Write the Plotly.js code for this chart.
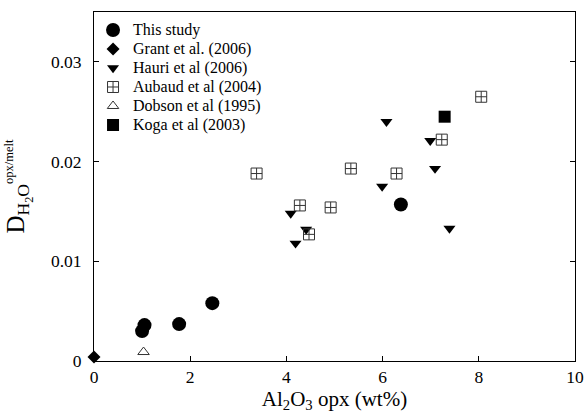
<!DOCTYPE html>
<html>
<head>
<meta charset="utf-8">
<script src="https://cdn.plot.ly/plotly-3.0.1.min.js"></script>
<style>html,body{margin:0;padding:0;background:#fff;}#chart{width:586px;height:416px;}</style>
</head>
<body>
<div id="chart"></div>
<script>
// Data
const thisStudyX = [1.00, 1.05, 1.77, 2.46, 6.38];
const thisStudyY = [0.0030, 0.0036, 0.0037, 0.0058, 0.0157];

const grantX = [0.0];
const grantY = [0.0004];

const hauriX = [6.08, 6.99, 7.09, 5.99, 4.09, 4.19, 4.41, 7.39];
const hauriY = [0.0240, 0.0221, 0.0193, 0.0175, 0.0148, 0.0118, 0.0132, 0.0133];

const aubaudX = [3.38, 8.05, 7.23, 5.34, 6.29, 4.28, 4.92, 4.47];
const aubaudY = [0.0188, 0.0265, 0.0222, 0.0193, 0.0188, 0.0156, 0.0154, 0.0127];

const dobsonX = [1.03];
const dobsonY = [0.0009];

const kogaX = [7.29];
const kogaY = [0.0245];

const seriesNames = ["This study", "Grant et al. (2006)", "Hauri et al (2006)",
  "Aubaud et al (2004)", "Dobson et al (1995)", "Koga et al (2003)"];

const xTickVals = [0, 2, 4, 6, 8, 10];
const yTickVals = [0, 0.01, 0.02, 0.03];
const yTickText = ["0", "0.01", "0.02", "0.03"];

const FONT = "Liberation Serif, Times New Roman, serif";
// legend label: 16px text inside a legend whose row pitch is set by a smaller base font
const lg = (s) => '<span style="font-size:16px">' + s + '</span>';

const traces = [
  {x: thisStudyX, y: thisStudyY, name: lg(seriesNames[0]), type: "scatter", mode: "markers",
   marker: {symbol: "circle", size: 14, color: "#000"}},
  {x: grantX, y: grantY, name: lg(seriesNames[1]), type: "scatter", mode: "markers", cliponaxis: false,
   marker: {symbol: "diamond", size: 10, color: "#000"}},
  {x: hauriX, y: hauriY, name: lg(seriesNames[2]), type: "scatter", mode: "markers",
   marker: {symbol: "triangle-down", size: 10.5, color: "#000"}},
  {x: aubaudX, y: aubaudY, name: lg(seriesNames[3]), type: "scatter", mode: "markers",
   marker: {symbol: "square-cross-open", size: 11, color: "#333", line: {width: 1, color: "#333"}}},
  {x: dobsonX, y: dobsonY, name: lg(seriesNames[4]), type: "scatter", mode: "markers",
   marker: {symbol: "triangle-up-open", size: 10, color: "#333", line: {width: 1, color: "#333"}}},
  {x: kogaX, y: kogaY, name: lg(seriesNames[5]), type: "scatter", mode: "markers",
   marker: {symbol: "square", size: 12, color: "#000"}}
];

const layout = {
  width: 586, height: 416,
  margin: {l: 94, r: 11, t: 12, b: 55, pad: 0},
  paper_bgcolor: "#fff", plot_bgcolor: "#fff",
  font: {family: FONT, size: 18, color: "#000"},
  showlegend: true,
  legend: {x: -0.002, y: 0.99, xanchor: "left", yanchor: "top",
           bgcolor: "rgba(0,0,0,0)", borderwidth: 0,
           font: {family: FONT, size: 12.3, color: "#000"}},
  xaxis: {
    range: [0, 10], tickvals: xTickVals, ticks: "inside", ticklen: 5, tickwidth: 1, tickcolor: "#000",
    showline: true, linecolor: "#000", linewidth: 1, mirror: true,
    showgrid: false, zeroline: false,
    tickfont: {family: FONT, size: 17.5, color: "#000"},
    title: {text: "Al<sub>2</sub>O<sub>3</sub> opx (wt%)", font: {family: FONT, size: 21, color: "#000"}, standoff: 3}
  },
  yaxis: {
    range: [0, 0.035], tickvals: yTickVals, ticktext: yTickText, ticks: "inside", ticklen: 5, tickwidth: 1, tickcolor: "#000",
    showline: true, linecolor: "#000", linewidth: 1, mirror: "ticks",
    showgrid: false, zeroline: false,
    tickfont: {family: FONT, size: 17.5, color: "#000"},
    ticklabelstandoff: 8,
    title: {text: 'D<sub>H<sub>2</sub>O</sub><sup><span style="font-size:12.5px">opx/melt</span></sup>',
            font: {family: FONT, size: 25, color: "#000"}, standoff: 19}
  }
};

Plotly.newPlot("chart", traces, layout, {displayModeBar: false, staticPlot: true});
</script>
</body>
</html>
